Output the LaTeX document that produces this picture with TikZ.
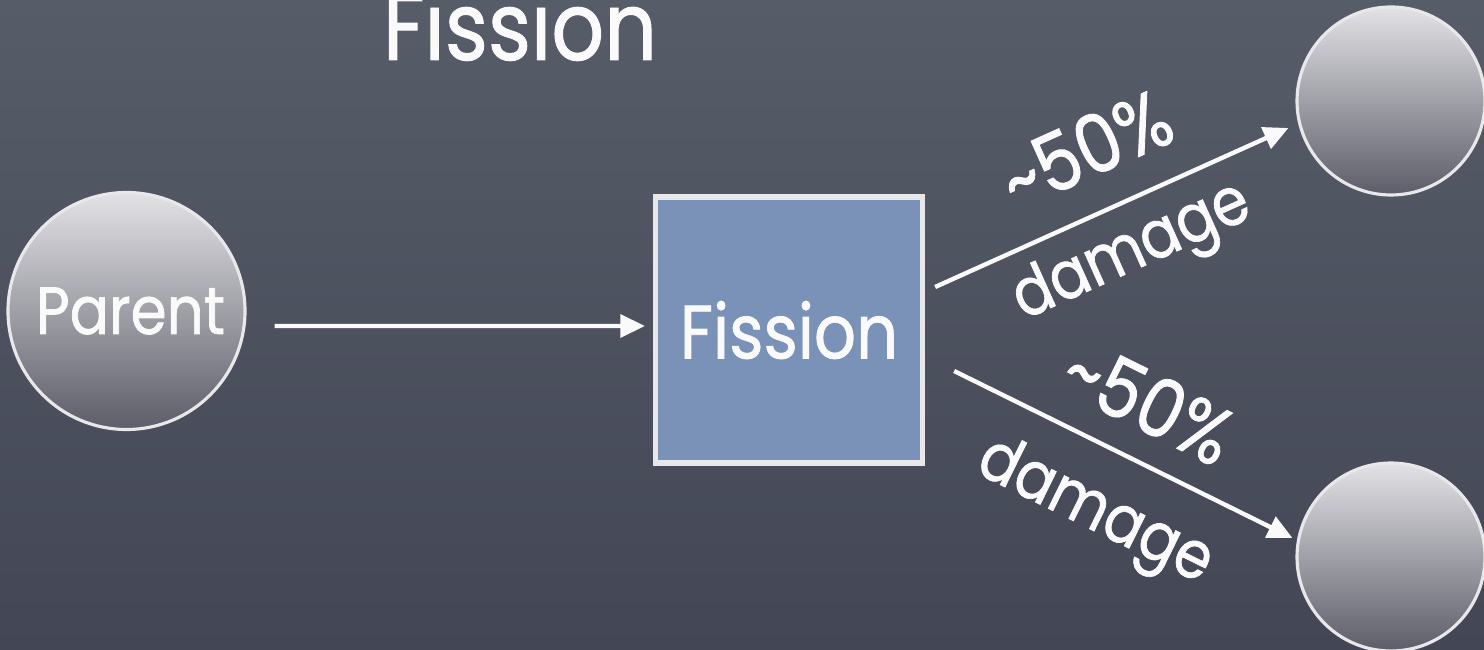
\documentclass[tikz,border=0pt]{standalone}
\usepackage{fontspec}
\setmainfont{Poppins}[FakeStretch=0.87,FakeBold=1]
\usetikzlibrary{arrows.meta,positioning,calc}
\definecolor{slatetop}{HTML}{575C69}
\definecolor{slatebot}{HTML}{434755}
\definecolor{chalk}{HTML}{FAFAFA}
\definecolor{rim}{HTML}{E8E8EA}
\definecolor{balltop}{HTML}{E2E2E6}
\definecolor{ballbot}{HTML}{5D5D69}
\definecolor{cellblue}{HTML}{7A92B8}
\tikzstyle{ball} = [circle, inner sep=0pt, draw=rim, line width=0.9pt, top color=balltop, bottom color=ballbot, text=chalk]
\tikzstyle{cell} = [rectangle, draw=rim, line width=1.5pt, fill=cellblue, minimum width=2.67cm, minimum height=2.66cm, inner sep=0pt, text=chalk]
\tikzstyle{flow} = [draw=chalk, line width=1.25pt, -{Triangle[length=7pt,width=6.5pt]}]
\tikzstyle{tag} = [text=chalk, font=\fontsize{19}{19}\selectfont, inner sep=0pt, sloped]
\tikzstyle{share} = [tag, font=\fontsize{23}{23}\selectfont]

\begin{document}
\begin{tikzpicture}
% board
\clip (0,0) rectangle (14.84,-6.5);
\shade[top color=slatetop, bottom color=slatebot] (0,0) rectangle (14.84,-6.5);

\node[text=chalk, font=\fontsize{27}{27}\selectfont, anchor=base] (title) at (5.2,-0.60) {Fission};

\node[ball, minimum size=2.37cm, font=\fontsize{19}{19}\selectfont] (parent) at (1.265,-3.11) {\hspace{0.08cm}Parent};
\node[cell, font=\fontsize{21.5}{21.5}\selectfont] (fission) at (7.89,-3.30) {\raisebox{-0.07cm}{Fission}};
\node[ball, minimum size=1.88cm] (childA) at (13.91,-1.01) {};
\node[ball, minimum size=1.88cm] (childB) at (13.91,-5.57) {};

\draw[flow] ([shift={(0.28,-0.15)}]parent.east) -- ([shift={(-0.08,0.04)}]fission.west);
% the two daughters
\draw[flow] ([shift={(0.10,0.43)}]fission.east) -- ([shift={(-0.07,-0.27)}]childA.west)
  node[share, midway, above=0.32cm] {\textasciitilde50\%}
  node[tag, midway, below=0.15cm] {damage};
\draw[flow] ([shift={(0.29,-0.41)}]fission.east) -- ([shift={(-0.03,0.19)}]childB.west)
  node[share, midway, above=0.26cm] {\textasciitilde50\%}
  node[tag, midway, below=0.3cm] {damage};
\end{tikzpicture}
\end{document}
